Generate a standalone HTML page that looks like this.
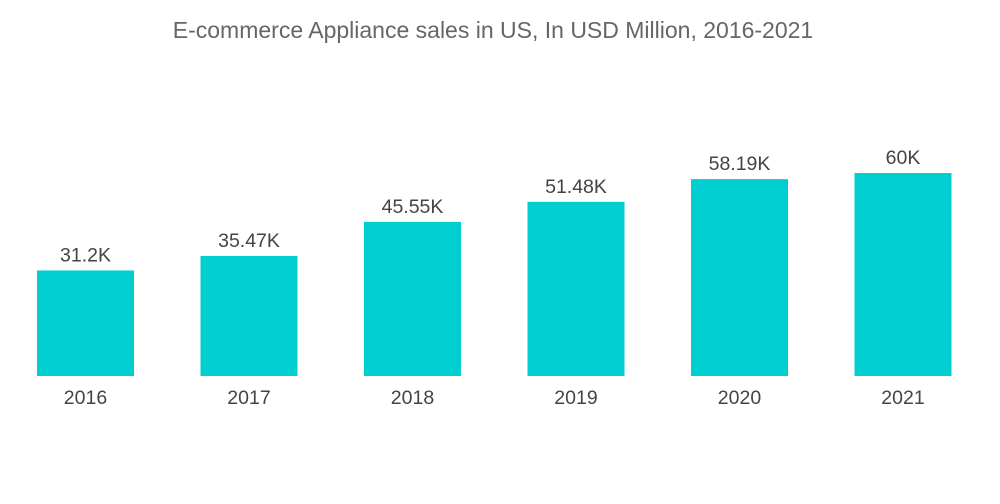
<!DOCTYPE html>
<html><head><meta charset="utf-8"><style>
html,body{margin:0;padding:0;background:#fff;}
svg{display:block;font-family:"Liberation Sans",sans-serif;}
</style></head><body>
<svg id="chart" width="1000" height="504" viewBox="0 0 1000 504">
<text x="493" y="38" text-anchor="middle" font-size="23" fill="#666">E-commerce Appliance sales in US, In USD Million, 2016-2021</text>
<g id="bars"></g>
</svg>
<script>
const categories = ["2016","2017","2018","2019","2020","2021"];
const values = [31.2, 35.47, 45.55, 51.48, 58.19, 60];
const valueLabels = ["31.2K","35.47K","45.55K","51.48K","58.19K","60K"];
const NS="http://www.w3.org/2000/svg";
const y0=376, yTop=173, vMax=60;
function yScale(v){return y0-(v/vMax)*(y0-yTop);}
function xCenter(i){return 85.5+163.5*i;}
const bw=97;
const g=document.getElementById('bars');
categories.forEach((c,i)=>{
  const v=values[i];
  const r=document.createElementNS(NS,'rect');
  
  
  r.setAttribute('x',xCenter(i)-bw/2);r.setAttribute('y',yScale(v));
  r.setAttribute('width',bw);r.setAttribute('height',y0-yScale(v));
  r.setAttribute('fill','#00CED1');
  g.appendChild(r);
  const t=document.createElementNS(NS,'text');
  
  
  t.setAttribute('x',xCenter(i));t.setAttribute('y',yScale(v)-9);
  t.setAttribute('text-anchor','middle');t.setAttribute('font-size','19.5');t.setAttribute('fill','#444');
  t.textContent=valueLabels[i];g.appendChild(t);
  const l=document.createElementNS(NS,'text');
  
  
  l.setAttribute('x',xCenter(i));l.setAttribute('y',404);
  l.setAttribute('text-anchor','middle');l.setAttribute('font-size','19.5');l.setAttribute('fill','#444');
  l.textContent=c;g.appendChild(l);
});
</script>
</body></html>
